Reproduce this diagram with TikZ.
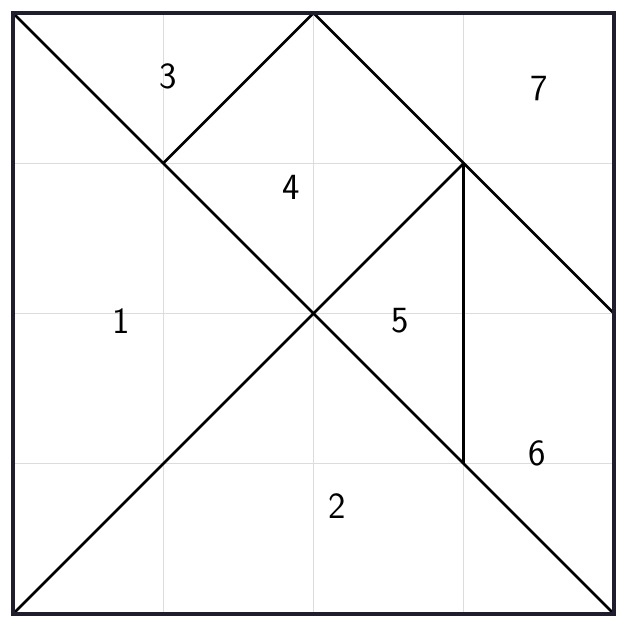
\documentclass[tikz,border=0pt]{standalone}
\usepackage{tikz}

\definecolor{frame}{HTML}{1E1E2C}
\definecolor{gridgray}{HTML}{DCDCDC}

\begin{document}
\begin{tikzpicture}[x=3cm,y=3cm,
    piece/.style={line width=1.5pt,black,line join=round},
    num/.style={font=\sffamily\fontsize{21}{24}\selectfont}]
    \useasboundingbox (-0.0867,-0.1067) rectangle (4.0733,4.0867);

    % grid
    \draw[gridgray,line width=0.5pt,xstep=3cm,ystep=3cm] (0,0) grid (4,4);

    % corners and cut points
    \coordinate (BL) at (0,0);
    \coordinate (BR) at (4,0);
    \coordinate (TR) at (4,4);
    \coordinate (TL) at (0,4);
    \coordinate (C) at (2,2);
    \coordinate (TM) at (2,4);
    \coordinate (RM) at (4,2);
    \coordinate (P) at (1,3);
    \coordinate (Q) at (3,3);
    \coordinate (S) at (3,1);

    % cuts
    \draw[piece] (TL) -- (BR);
    \draw[piece] (BL) -- (C) -- (Q);
    \draw[piece] (P) -- (TM) -- (RM);
    \draw[piece] (Q) -- (S);

    % outer square
    \draw[frame,line width=2pt] (BL) rectangle (TR);

    % labels
    \node[num] (n3) at (1.03,3.58) {3};
    \node[num] (n7) at (3.50,3.50) {7};
    \node[num] (n4) at (1.85,2.84) {4};
    \node[num] (n1) at (0.72,1.95) {1};
    \node[num] (n5) at (2.58,1.95) {5};
    \node[num] (n6) at (3.49,1.07) {6};
    \node[num] (n2) at (2.16,0.72) {2};
\end{tikzpicture}
\end{document}
